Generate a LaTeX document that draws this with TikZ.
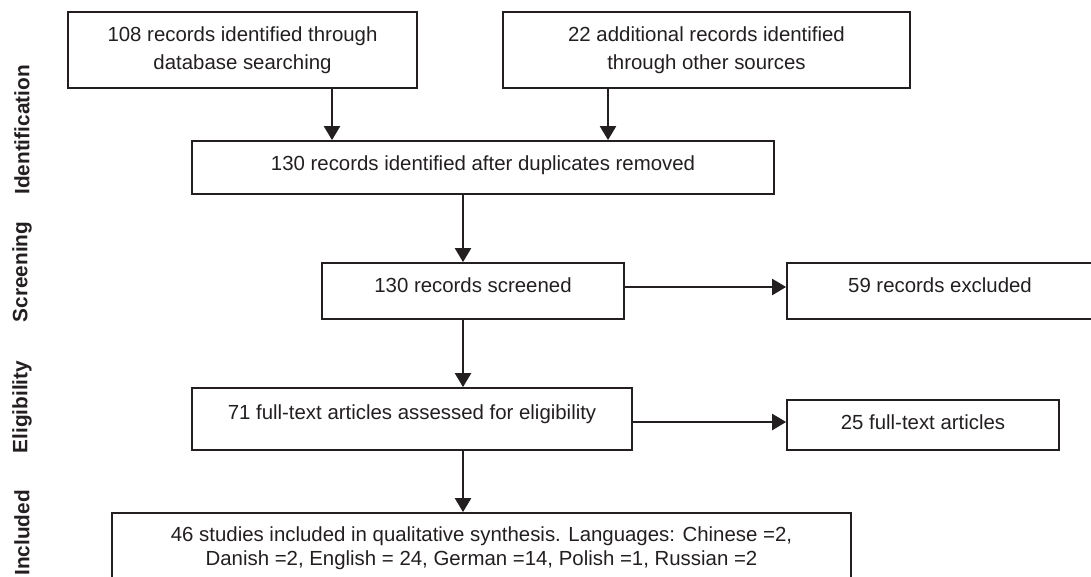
\documentclass[tikz,border=0pt]{standalone}
\usepackage{fontspec}
\setmainfont{Liberation Sans}
\usetikzlibrary{arrows.meta}
\definecolor{ink}{RGB}{35,31,32}

\begin{document}
\begin{tikzpicture}[x=0.5pt,y=-0.5pt,
  font=\fontsize{10.2}{14}\selectfont, text=ink,
  box/.style={draw=ink,line width=0.9pt,inner sep=0pt,align=center},
  flow/.style={draw=ink,line width=1.2pt,-{Triangle[length=7pt,width=8pt]}},
  phase/.style={rotate=90,font=\fontsize{10.4}{12}\selectfont\bfseries}]
  \useasboundingbox (0,0) rectangle (1091,577);
  %% Boxes of the flow
  \node[box,minimum width=174.5pt,minimum height=38pt] (database) at (242.5,50) {108 records identified through\\database searching};
  \node[box,minimum width=203.5pt,minimum height=38pt] (other) at (706.5,50) {22 additional records identified\\through other sources};
  \node[box,minimum width=291pt,minimum height=26.5pt,text height=7.5pt,text depth=4.2pt] (merged) at (483,167.5) {130 records identified after duplicates removed};
  \node[box,minimum width=151pt,minimum height=28pt,text height=7.5pt,text depth=6.2pt] (screened) at (473,291) {130 records screened};
  \node[box,minimum width=153pt,minimum height=28pt,text height=7.5pt,text depth=6.2pt] (excluded) at (940,291) {59 records excluded};
  \node[box,minimum width=220pt,minimum height=31pt,text height=7.5pt,text depth=7.2pt] (fulltext) at (412,419) {71 full-text articles assessed for eligibility};
  \node[box,minimum width=136pt,minimum height=25pt,text height=7.5pt,text depth=3.2pt] (dropped) at (923,425) {25 full-text articles};
  \node[box,minimum width=369.5pt,minimum height=35pt,font=\fontsize{10.2}{12}\selectfont] (included) at (481.5,548) {46 studies included in qualitative synthesis. Languages: Chinese =2,\\Danish =2, English = 24, German =14, Polish =1, Russian =2};
  %% Phase labels on the left
  \foreach \y/\name in {130/Identification,272/Screening,407/Eligibility,533/Included}{
    \node[phase] (phase-\name) at (22,\y) {\name};
  }
  %% x of the vertical arrows
  \coordinate (col-db) at (332,0);
  \coordinate (col-other) at (608,0);
  \coordinate (col-main) at (463,0);
  \draw[flow] (database.south -| col-db) -- (merged.north -| col-db);
  \draw[flow] (other.south -| col-other) -- (merged.north -| col-other);
  \draw[flow] (merged.south -| col-main) -- (screened.north -| col-main);
  \draw[flow] (screened.south -| col-main) -- (fulltext.north -| col-main);
  \draw[flow] (fulltext.south -| col-main) -- (included.north -| col-main);
  %% horizontal arrows
  \coordinate (row-excl) at (0,287);
  \coordinate (row-drop) at (0,422);
  \draw[flow] (screened.east |- row-excl) -- (excluded.west |- row-excl);
  \draw[flow] (fulltext.east |- row-drop) -- (dropped.west |- row-drop);
\end{tikzpicture}
\end{document}
